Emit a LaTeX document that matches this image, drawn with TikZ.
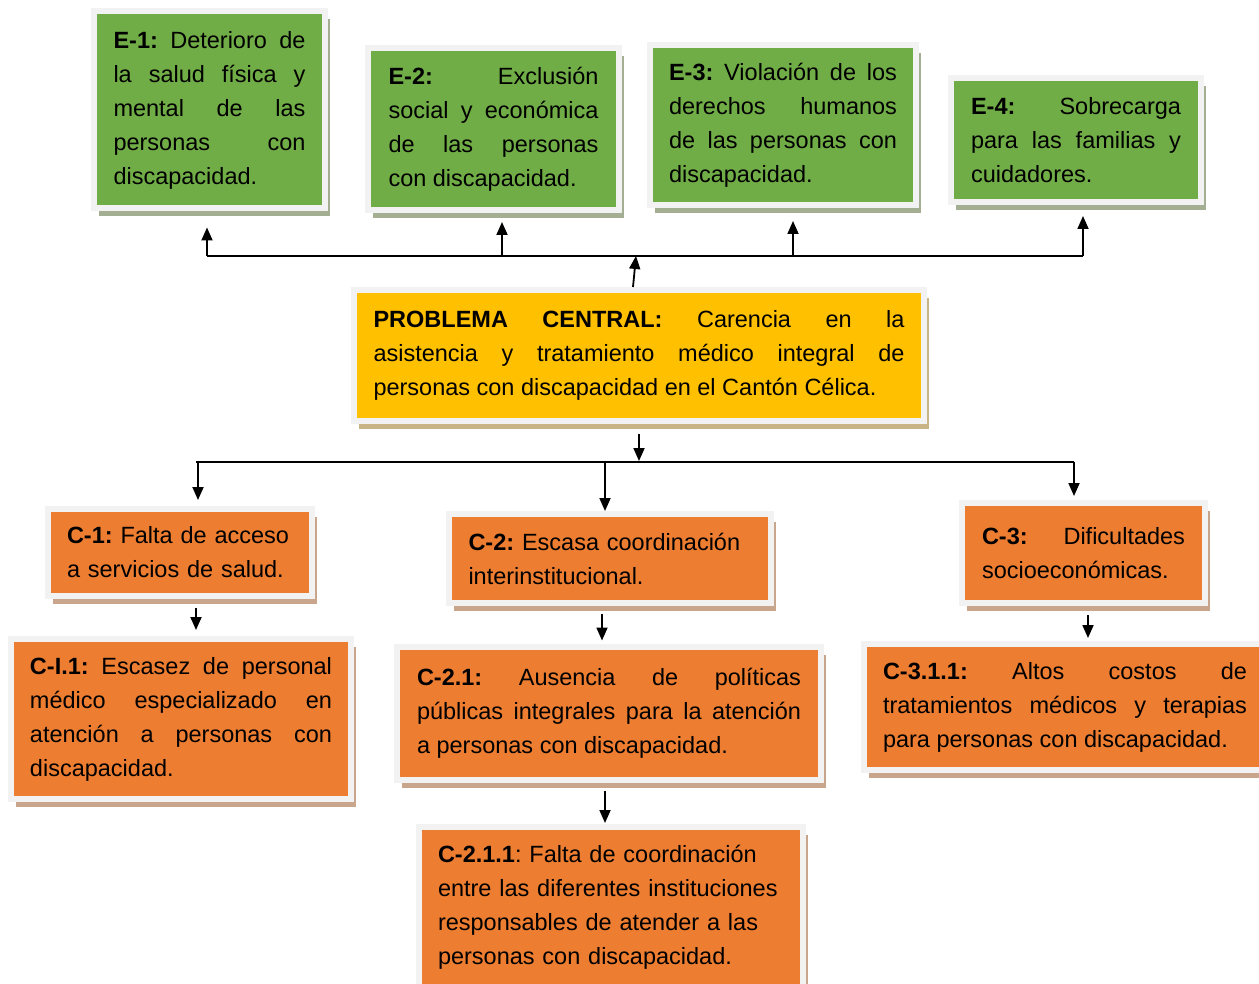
\documentclass[tikz,border=0pt]{standalone}
\usepackage{fontspec}
\setmainfont{Liberation Sans}
\usetikzlibrary{arrows.meta,shadows}
\definecolor{effgreen}{HTML}{70AD47}
\definecolor{causeorange}{HTML}{ED7D31}
\definecolor{coreyellow}{HTML}{FFC000}
\definecolor{framegray}{HTML}{F2F2F2}
\definecolor{greenshade}{HTML}{A3AE93}
\definecolor{orangeshade}{HTML}{C9A58C}
\definecolor{yellowshade}{HTML}{C8B484}
\hyphenpenalty=10000
\exhyphenpenalty=10000
\tolerance=10000
\hbadness=10000

\begin{document}
\begin{tikzpicture}[
        x=1pt,
        y=-1pt,
        box/.style={
                draw=framegray,
                line width=6pt,
                inner sep=2pt,
                align=justify,
                font=\fontsize{23.5pt}{34pt}\selectfont\frenchspacing
                },
        effect/.style={
                box,
                fill=effgreen,
                drop shadow={shadow xshift=5pt,shadow yshift=-8pt,fill=greenshade,opacity=1}
                },
        core/.style={
                box,
                fill=coreyellow,
                drop shadow={shadow xshift=5pt,shadow yshift=-8pt,fill=yellowshade,opacity=1}
                },
        cause/.style={
                box,
                fill=causeorange,
                drop shadow={shadow xshift=5pt,shadow yshift=-8pt,fill=orangeshade,opacity=1}
                },
        conn/.style={line width=1.8pt},
        arr/.style={conn,-{Triangle[length=13pt,width=11pt]}}
        ]

%page
\path[use as bounding box, fill=white] (0,0) rectangle (1259,984);

%effects
\node[effect, minimum width=231pt, minimum height=197pt, text width=192pt]
        (e1) at (209.5,110)
        {\textbf{E-1:} Deterioro de\linebreak la salud física y\linebreak
         mental de las\linebreak personas con\linebreak discapacidad.};
\node[effect, minimum width=251pt, minimum height=162pt, text width=210pt]
        (e2) at (493.5,129)
        {\textbf{E-2:} Exclusión\linebreak social y económica\linebreak
         de las personas\linebreak con discapacidad.};
\node[effect, minimum width=266pt, minimum height=160pt, text width=228pt]
        (e3) at (783,125)
        {\textbf{E-3:} Violación de los\linebreak derechos humanos\linebreak
         de las personas con\linebreak discapacidad.};
\node[effect, minimum width=250pt, minimum height=124pt, text width=210pt]
        (e4) at (1076,140)
        {\textbf{E-4:} Sobrecarga\linebreak para las familias y\linebreak
         cuidadores.};

%central problem
\node[core, minimum width=570pt, minimum height=131pt, text width=531pt]
        (pc) at (639,355.5)
        {\textbf{PROBLEMA CENTRAL:} Carencia en la\linebreak
         asistencia y tratamiento médico integral de\linebreak
         personas con discapacidad en el Cantón Célica.};

%causes
\node[cause, minimum width=264pt, minimum height=87pt, text width=226pt, align=left]
        (c1) at (180,552.5)
        {\textbf{C-1:} Falta de acceso\\ a servicios de salud.};
\node[cause, minimum width=322pt, minimum height=89pt, text width=283pt, align=left]
        (c2) at (610,558.5)
        {\textbf{C-2:} Escasa coordinación\\ interinstitucional.};
\node[cause, minimum width=243pt, minimum height=100pt, text width=203pt]
        (c3) at (1083.5,553)
        {\textbf{C-3:} Dificultades\linebreak socioeconómicas.};

%sub causes
\node[cause, minimum width=340pt, minimum height=160pt, text width=302pt]
        (c11) at (181,719)
        {\textbf{C-I.1:} Escasez de personal\linebreak médico especializado en\linebreak
         atención a personas con\linebreak discapacidad.};
\node[cause, minimum width=424pt, minimum height=133pt, text width=384pt]
        (c21) at (609,713)
        {\textbf{C-2.1:} Ausencia de políticas\linebreak
         públicas integrales para la atención\linebreak
         a personas con discapacidad.};
\node[cause, minimum width=402pt, minimum height=126pt, text width=364pt]
        (c31) at (1065,707)
        {\textbf{C-3.1.1:} Altos costos de\linebreak
         tratamientos médicos y terapias\linebreak
         para personas con discapacidad.};
\node[cause, minimum width=384pt, minimum height=161pt, text width=346pt, align=left]
        (c211) at (611,907.5)
        {\textbf{C-2.1.1}: Falta de coordinación\\
         entre las diferentes instituciones\\
         responsables de atender a las\\
         personas con discapacidad.};

%upper bar
\coordinate (tl) at (207,256);
\coordinate (t2) at (502,256);
\coordinate (t3) at (793,256);
\coordinate (tr) at (1083,256);
\coordinate (pcup) at (636,256);
\draw[conn] (tl) -- (tr);
\draw[arr, shorten >=16pt] (tl) -- (tl |- e1.south);
\draw[arr, shorten >=9pt] (t2) -- (t2 |- e2.south);
\draw[arr, shorten >=13pt] (t3) -- (t3 |- e3.south);
\draw[arr, shorten >=11pt] (tr) -- (tr |- e4.south);
\draw[arr] ([xshift=-6pt]pc.north) -- (pcup);

%lower bar
\coordinate (bl) at (196,462);
\coordinate (b1) at (198,462);
\coordinate (b2) at (605,462);
\coordinate (br) at (1074,462);
\coordinate (pcdown) at (639,461);
\draw[arr, shorten <=10pt] (pc.south) -- (pcdown);
\draw[conn] (bl) -- (br);
\draw[arr, shorten >=6pt] (b1) -- (b1 |- c1.north);
\draw[arr] (b2) -- (b2 |- c2.north);
\draw[arr, shorten >=4pt] (br) -- (br |- c3.north);

%cause chains
\draw[arr, shorten <=9pt, shorten >=6pt]
        ([xshift=16pt]c1.south) -- ([xshift=16pt]c1.south |- c11.north);
\draw[arr, shorten <=8pt, shorten >=3pt]
        ([xshift=-8pt]c2.south) -- ([xshift=-8pt]c2.south |- c21.north);
\draw[arr, shorten <=9pt, shorten >=3pt]
        ([xshift=4.5pt]c3.south) -- ([xshift=4.5pt]c3.south |- c31.north);
\draw[arr, shorten <=8pt, shorten >=1pt]
        ([xshift=-4pt]c21.south) -- ([xshift=-4pt]c21.south |- c211.north);
\end{tikzpicture}
\end{document}
